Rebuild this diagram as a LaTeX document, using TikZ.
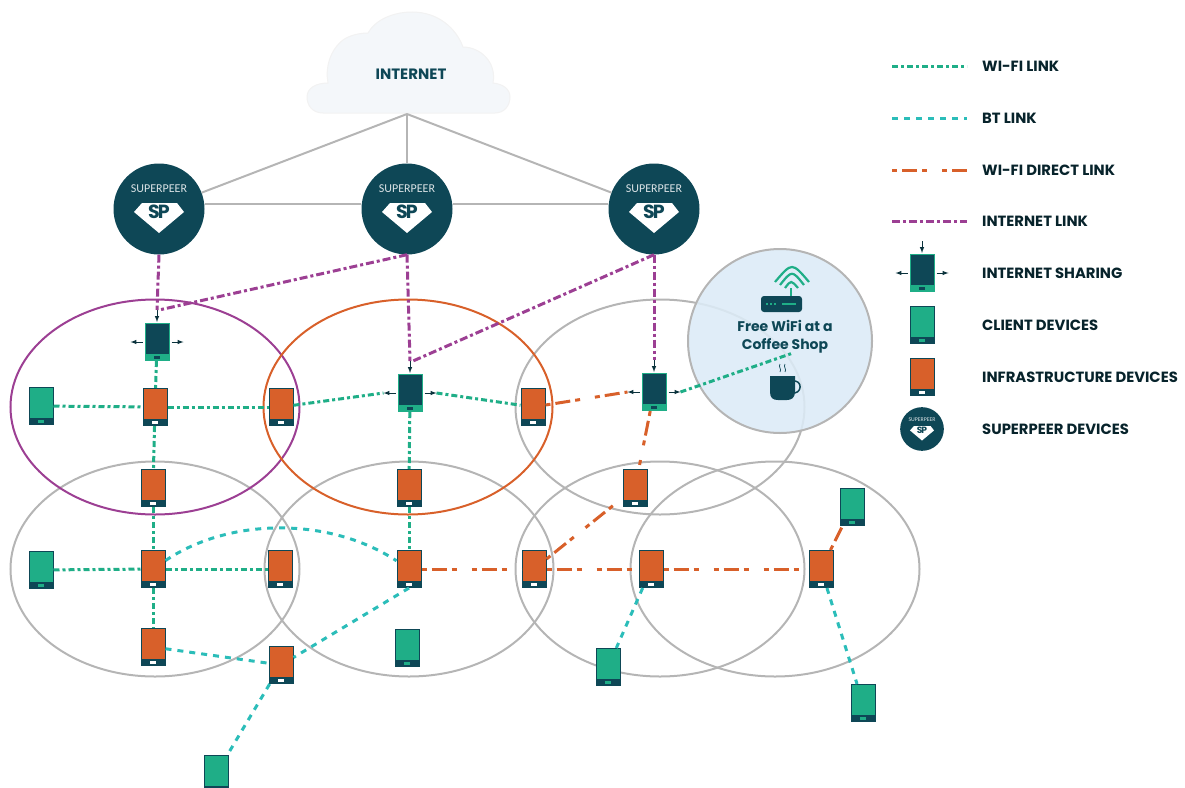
\documentclass[tikz,border=0pt]{standalone}
\usepackage{fontspec}
\setmainfont{Poppins}
\newfontfamily\spfont{Carlito}
\usetikzlibrary{shapes}
\definecolor{spdark}{HTML}{0E4756}
\definecolor{devgreen}{HTML}{1FAE87}
\definecolor{devorange}{HTML}{D8602A}
\definecolor{btcolor}{HTML}{2BBDB9}
\definecolor{netpurple}{HTML}{9C3F93}
\definecolor{zonegrey}{HTML}{B5B5B5}
\definecolor{coffeeblue}{HTML}{DCEBF7}
\definecolor{cloudfill}{HTML}{F4F7FA}
\tikzset{
  tablet/.style n args={4}{rectangle,minimum width=24,minimum height=37,inner sep=0,fill=#1,draw=#2,line width=1,
    path picture={\fill[#3] ([yshift=7pt]path picture bounding box.south west) rectangle (path picture bounding box.south east);
      \fill[#4] ([xshift=-3pt,yshift=2pt]path picture bounding box.south) rectangle ([xshift=3pt,yshift=4.5pt]path picture bounding box.south);}},
  infra/.style={tablet={devorange}{spdark}{spdark}{white}},
  client/.style={tablet={devgreen}{spdark}{spdark}{devgreen}},
  share/.style={tablet={spdark}{devgreen}{devgreen}{spdark}},
  zone/.style={ellipse,draw=zonegrey,line width=2,minimum width=289,minimum height=215,inner sep=0},
  greyline/.style={draw=zonegrey,line width=2},
  wifilink/.style={draw=devgreen,line width=3,dash pattern=on 6pt off 3pt on 3pt off 3pt},
  btlink/.style={draw=btcolor,line width=3,dash pattern=on 6pt off 6pt},
  directlink/.style={draw=devorange,line width=3,dash pattern=on 5pt off 5pt on 15pt off 5pt on 5pt off 15pt},
  netlink/.style={draw=netpurple,line width=3,dash pattern=on 8pt off 3pt on 3pt off 3pt},
  legendlabel/.style={anchor=west,text=spdark!50!black,font=\bfseries\fontsize{14.8}{16}\selectfont,inner sep=0},
  smallarrow/.style={-latex,draw=spdark!70!black,line width=1},
}
\newcommand{\superpeer}[4]{
\begin{scope}[shift={(#2,#3)},scale=#4,transform shape]
\node[circle,fill=spdark,minimum size=91,inner sep=0] (#1) at (0,0) {};
\node[text=white!85!spdark,font=\spfont\fontsize{12}{12}\selectfont,inner sep=0] (#1name) at (0,-20) {SUPERPEER};
\fill[white] (-17,-6) -- (18,-6) -- (25,3) -- (0,24) -- (-25,3) -- cycle;
\node[text=spdark,font=\bfseries\fontsize{19}{19}\selectfont,inner sep=0] (#1mark) at (0,3) {S\kern-2pt P};
\end{scope}}
\newcommand{\sharearrows}[1]{
\coordinate (#1l) at ([xshift=-14pt]#1.west);
\coordinate (#1r) at ([xshift=14pt]#1.east);
\coordinate (#1t) at ([yshift=13pt]#1.north);
\draw[smallarrow] ([xshift=-2pt]#1.west) -- (#1l);
\draw[smallarrow] ([xshift=2pt]#1.east) -- (#1r);
\draw[smallarrow] (#1t) -- ([yshift=1pt]#1.north);}
\begin{document}
\begin{tikzpicture}[x=1pt,y=-1pt]
\useasboundingbox (0,0) rectangle (1185,787);
\foreach \n/\x/\y in {zoneC/660/407,zoneD/155/569,zoneE/409/569,zoneF/660/569,zoneG/775/569}
  \node[zone] (\n) at (\x,\y) {};
\node[zone,draw=netpurple] (zoneA) at (155,407) {};
\node[zone,draw=devorange] (zoneB) at (408,407) {};
\node[circle,fill=coffeeblue,fill opacity=.88,draw=zonegrey,line width=2,minimum size=184,inner sep=0] (coffee) at (780,341) {};
\coordinate (coffeeend) at (793,353);
\fill[spdark,rounded corners=3pt] (761,296) rectangle (802,312);
\draw[devgreen,line width=1.4,dash pattern=on 2pt off 2pt] (766,304) -- (777,304);
\draw[devgreen,line width=1.4] (782,304) -- (796,304);
\draw[devgreen,line width=1.8] (791,288) -- (791,296);
\draw[devgreen,line width=2.2] (775,282) .. controls (792,262) .. (809,282);
\draw[devgreen,line width=2.2] (780,285) .. controls (792,270) .. (804,285);
\draw[devgreen,line width=2.2] (785,288) .. controls (791,280) .. (798,288);
\node[text=spdark,font=\bfseries\fontsize{14}{18}\selectfont,align=center,inner sep=0] (coffeetext) at (785,337) {Free WiFi at a\\Coffee Shop};
\draw[spdark,line width=1.5] (792,381) .. controls (803,379) and (803,395) .. (791,393);
\fill[spdark] (770,376) -- (795,376) -- (795,392) .. controls (795,398) and (791,400) .. (787,400) -- (778,400) .. controls (773,400) and (770,398) .. (770,392) -- cycle;
\draw[spdark,line width=.7] (780,364) .. controls (778,367) and (782,369) .. (780,372);
\draw[spdark,line width=.7] (785,364) .. controls (783,367) and (787,369) .. (785,372);
\fill[cloudfill,draw=black!5,line width=1] (323,113) .. controls (313,113) and (307,106) .. (307,97)
  .. controls (307,88) and (316,83) .. (328,83) .. controls (325,68) and (330,50) .. (343,40)
  .. controls (350,35) and (360,33) .. (368,33) .. controls (375,20) and (393,12) .. (412,12)
  .. controls (438,12) and (456,28) .. (463,47) .. controls (480,47) and (497,62) .. (493,83)
  .. controls (503,84) and (510,89) .. (510,97) .. controls (510,106) and (504,113) .. (495,113) -- cycle;
\node[text=spdark,font=\bfseries\fontsize{15}{16}\selectfont,inner sep=0] (cloud) at (411,74) {INTERNET};
\coordinate (inet) at (407,114);
\superpeer{spA}{159}{209}{1}
\superpeer{spB}{407}{209}{1}
\superpeer{spC}{654}{209}{1}
\draw[greyline] (inet) -- (spA);
\draw[greyline] (inet) -- (spB);
\draw[greyline] (inet) -- (spC);
\draw[greyline] ([yshift=5pt]spA.east) -- ([yshift=5pt]spB.west);
\draw[greyline] ([yshift=5pt]spB.east) -- ([yshift=5pt]spC.west);
\node[share] (shareA) at (157,342) {};
\node[share] (shareB) at (410,393) {};
\node[share] (shareC) at (654,392) {};
\sharearrows{shareA}
\sharearrows{shareB}
\sharearrows{shareC}
\foreach \n/\x/\y in {infA/155/407,infB/281/407,infC/533/407,infD/153/488,infE/409/488,infF/635/488,
  infG/153/569,infH/280/569,infI/409/569,infJ/534/569,infK/651/569,infL/821/569,infM/153/647,infN/281/665}
  \node[infra] (\n) at (\x,\y) {};
\foreach \n/\x/\y in {cliA/41/406,cliB/41/570,cliC/852/507,cliD/407/648,cliE/608/667,cliF/863/703,cliG/216/774}
  \node[client] (\n) at (\x,\y) {};
\draw[netlink] (spA.south) -- (shareAt);
\draw[netlink] (spB.south) -- ([xshift=2pt]shareAt);
\draw[netlink] (spB.south) -- (shareBt);
\draw[netlink] (spC.south) -- ([xshift=3pt]shareBt);
\draw[netlink] (spC.south) -- (shareCt);
\foreach \a/\b in {cliA/infA,infA/infB,shareA/infA,infA/infD,infD/infG,shareB/infE,infE/infI,cliB/infG,infG/infH,infG/infM,infB/shareBl,shareBr/infC,shareCr/coffeeend}
  \draw[wifilink] (\a) -- (\b);
\draw[btlink] (infG) .. controls (230,517) and (330,517) .. (infI);
\foreach \a/\b in {infM/infN,infI.south/infN,infN/cliG,infK/cliE,infL/cliF}
  \draw[btlink] (\a) -- (\b);
\foreach \a/\b in {infC/shareCl,shareC/infF,infJ/infF,infI/infJ,infJ/infK,infK/infL,infL/cliC}
  \draw[directlink] (\a) -- (\b);
\foreach \s/\y/\t/\lab in {wifilink/66/wifi/WI-FI LINK,btlink/118/bt/BT LINK,directlink/170/direct/WI-FI DIRECT LINK,netlink/221/net/INTERNET LINK}{
  \coordinate (\t a) at (892,\y);
  \coordinate (\t b) at (967,\y);
  \draw[\s] (\t a) -- (\t b);
  \node[legendlabel] (\t label) at (982,\y) {\lab};
}
\node[share] (keyshare) at (922,273) {};
\sharearrows{keyshare}
\node[client] (keyclient) at (922,325) {};
\node[infra] (keyinfra) at (922,377) {};
\superpeer{keysp}{922}{429}{.48}
\node[legendlabel] (sharelabel) at (982,273) {INTERNET SHARING};
\node[legendlabel] (clientlabel) at (982,325) {CLIENT DEVICES};
\node[legendlabel] (infralabel) at (982,377) {INFRASTRUCTURE DEVICES};
\node[legendlabel] (splabel) at (982,429) {SUPERPEER DEVICES};
\end{tikzpicture}
\end{document}
